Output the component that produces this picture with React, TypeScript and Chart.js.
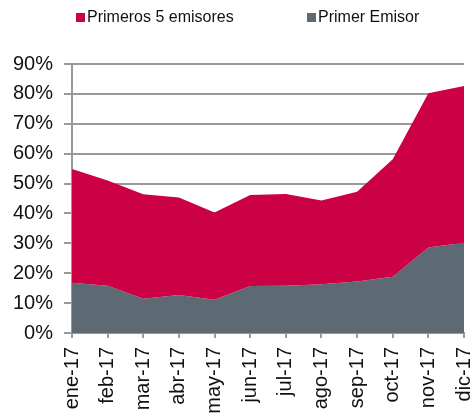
import React, { useEffect, useRef } from "react";
import { Chart, registerables } from "chart.js";

Chart.register(...registerables);

const categories = ["ene-17", "feb-17", "mar-17", "abr-17", "may-17", "jun-17", "jul-17", "ago-17", "sep-17", "oct-17", "nov-17", "dic-17"];
const primeros5 = [54.9, 51.0, 46.4, 45.3, 40.3, 46.2, 46.5, 44.3, 47.3, 58.1, 80.2, 82.6];
const primerEmisor = [16.8, 15.8, 11.5, 12.7, 11.1, 15.7, 15.8, 16.3, 17.2, 18.8, 28.6, 30.2];
const seriesNames = ["Primeros 5 emisores", "Primer Emisor"];

const RED = "#cc0044";
const GRAY = "#5e6a73";
const GRID = "#999999";
const FONT = "'Liberation Sans', Arial, sans-serif";

const legendPlugin = {
  id: "customLegend",
  afterDraw(chart: any) {
    const ctx = chart.ctx;
    ctx.save();
    ctx.font = `16px ${FONT}`;
    ctx.textBaseline = "alphabetic";
    ctx.textAlign = "left";
    const items = [
      { x: 76, color: RED, text: seriesNames[0] },
      { x: 307, color: GRAY, text: seriesNames[1] },
    ];
    for (const it of items) {
      ctx.fillStyle = it.color;
      ctx.fillRect(it.x, 13, 9, 9);
      ctx.fillStyle = "#111111";
      ctx.fillText(it.text, it.x + 11, 22);
    }
    ctx.restore();
  },
};

export default function App() {
  const ref = useRef<HTMLCanvasElement>(null);
  useEffect(() => {
    document.body.style.margin = "0";
    const chart = new Chart(ref.current!, {
      type: "line",
      data: {
        labels: categories,
        datasets: [
          {
            label: seriesNames[0],
            data: primeros5,
            backgroundColor: RED,
            borderColor: RED,
            borderWidth: 0,
            pointRadius: 0,
            fill: "+1",
            tension: 0,
          },
          {
            label: seriesNames[1],
            data: primerEmisor,
            backgroundColor: GRAY,
            borderColor: GRAY,
            borderWidth: 0,
            pointRadius: 0,
            fill: "origin",
            tension: 0,
          },
        ],
      },
      options: {
        animation: false,
        responsive: false,
        maintainAspectRatio: false,
        layout: { padding: { left: 12, right: 6, top: 64, bottom: 0 } },
        plugins: {
          legend: { display: false },
          tooltip: { enabled: false },
        },
        scales: {
          x: {
            offset: false,
            grid: {
              display: true,
              drawOnChartArea: false,
              drawTicks: true,
              tickLength: 5,
              color: GRID,
              lineWidth: 2,
            },
            border: { display: true, color: GRID, width: 2 },
            ticks: {
              autoSkip: false,
              maxRotation: 90,
              minRotation: 90,
              padding: 9,
              color: "#111111",
              font: { family: FONT, size: 20 },
            },
            afterFit: (scale: any) => {
              scale.paddingRight = 0;
              scale.paddingLeft = 0;
              scale.height = 81;
            },
          },
          y: {
            min: 0,
            max: 90,
            grid: {
              color: GRID,
              lineWidth: 2,
              drawTicks: true,
              tickLength: 8,
            },
            border: { display: true, color: GRID, width: 2 },
            ticks: {
              stepSize: 10,
              padding: 11,
              color: "#111111",
              font: { family: FONT, size: 20 },
              callback: (v: any) => `${v}%`,
            },
            afterFit: (scale: any) => {
              scale.width = 60;
            },
          },
        },
      },
      plugins: [legendPlugin],
    });
    return () => chart.destroy();
  }, []);
  return (
    <div style={{ position: "absolute", left: 0, top: 0, width: 470, height: 414 }}>
      <canvas ref={ref} width={470} height={414} style={{ width: 470, height: 414 }} />
    </div>
  );
}
